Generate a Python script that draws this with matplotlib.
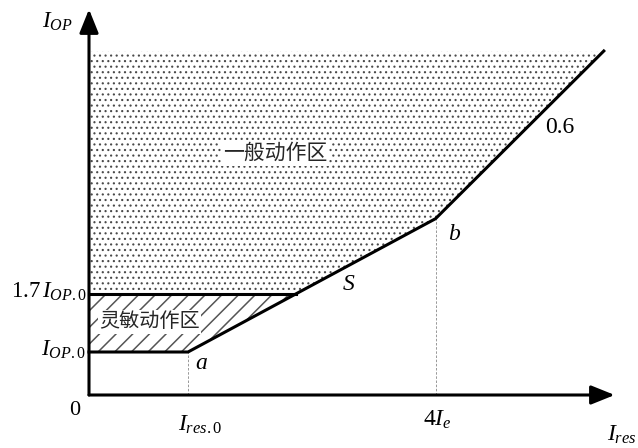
import numpy as np
import matplotlib.pyplot as plt
from matplotlib.patches import Polygon, ArrowStyle

plt.rcParams['mathtext.fontset'] = 'custom'
plt.rcParams['mathtext.rm'] = 'Liberation Serif'
plt.rcParams['mathtext.it'] = 'Liberation Serif:italic'
plt.rcParams['font.family'] = ['Liberation Serif', 'DejaVu Serif']

# characteristic knee points (schematic units): origin, I_res.0, 4Ie, end of line
ires_knee = [0.0, 1.0, 3.5, 5.2]
iop_knee = [1.0, 1.0, 4.1, 8.0]
sens_top = 2.35      # 1.7 I_OP.0 level
region_top = 8.0     # top of the operating region
x_axis_end = 5.31
y_axis_end = 8.97

fig = plt.figure(figsize=(6.38, 4.48), dpi=100)
ax = fig.add_axes([0, 0, 1, 1])
ax.set_xlim(-89 / 99, (638 - 89) / 99)
ax.set_ylim(-53 / 43, 395 / 43)
ax.axis('off')

# where the sloped part S crosses the 1.7 I_OP.0 level
x_cross = np.interp(sens_top, iop_knee[1:3], ires_knee[1:3])

# general operating region (dots)
plt.rcParams['hatch.linewidth'] = 0.8
general = Polygon([(0, sens_top), (x_cross, sens_top), (ires_knee[2], iop_knee[2]),
                   (ires_knee[3], region_top), (0, region_top)],
                  closed=True, facecolor='white', edgecolor='#4a4a4a', lw=0,
                  hatch='...', zorder=1)
ax.add_patch(general)

# sensitive operating region (diagonal lines)
plt.rcParams['hatch.linewidth'] = 1.1
sensitive = Polygon([(0, iop_knee[0]), (ires_knee[1], iop_knee[1]),
                     (x_cross, sens_top), (0, sens_top)],
                    closed=True, facecolor='white', edgecolor='#555555', lw=0,
                    hatch='//', zorder=1)
ax.add_patch(sensitive)

# dashed guides
for xv, yv in zip(ires_knee[1:3], iop_knee[1:3]):
    ax.plot([xv, xv], [0, yv], ls=(0, (3, 2)), lw=0.6, color='#888888', zorder=2)

# characteristic line and 1.7 level
ax.plot(ires_knee, iop_knee, color='k', lw=2.2, solid_joinstyle='miter', zorder=4)
ax.plot([0, x_cross], [sens_top, sens_top], color='k', lw=2.2, zorder=4)

# axes with arrows
head = ArrowStyle('-|>', head_length=0.72, head_width=0.29)
for tip in [(0, y_axis_end), (x_axis_end, 0)]:
    ax.annotate('', xy=tip, xytext=(0, 0),
                arrowprops=dict(arrowstyle=head, mutation_scale=20, lw=2.2,
                                color='k', shrinkA=0, shrinkB=0), zorder=5)

# zone labels
cjk = ['Noto Sans CJK SC', 'DejaVu Sans']
ax.text(1.88, 5.63, '一般动作区', fontsize=15, ha='center', va='center',
        family=cjk, color='#262626', zorder=3,
        bbox=dict(facecolor='white', edgecolor='none', pad=1.5))
ax.text(0.61, 1.70, '灵敏动作区', fontsize=14.5, ha='center', va='center',
        family=cjk, color='#262626', zorder=3,
        bbox=dict(facecolor='white', edgecolor='none', pad=1.0))

# axis labels
ax.text(-0.32, 8.67, r'$I_{OP}$', fontsize=16.5, ha='center', va='center')
ax.text(-0.02, 2.40, r'$\mathit{1.7}\,I_{\mathit{OP.0}}$', fontsize=16.5,
        ha='right', va='center')
ax.text(-0.03, 1.05, r'$I_{\mathit{OP.0}}$', fontsize=16.5, ha='right', va='center')
ax.text(-0.14, -0.35, '0', fontsize=16, ha='center', va='center')
ax.text(1.12, -0.70, r'$I_{res\mathrm{.0}}$', fontsize=17, ha='center', va='center')
ax.text(3.52, -0.58, r'$\mathrm{4}I_e$', fontsize=17, ha='center', va='center')
ax.text(5.53, -0.93, r'$I_{res}$', fontsize=17, ha='right', va='center')

# point labels
ax.text(1.14, 0.74, r'$a$', fontsize=17, ha='center', va='center')
ax.text(3.69, 3.74, r'$b$', fontsize=17, ha='center', va='center')
ax.text(2.62, 2.58, r'$S$', fontsize=17, ha='center', va='center')
ax.text(4.76, 6.21, '0.6', fontsize=17, ha='center', va='center')

fig.savefig('out.png', dpi=100)
